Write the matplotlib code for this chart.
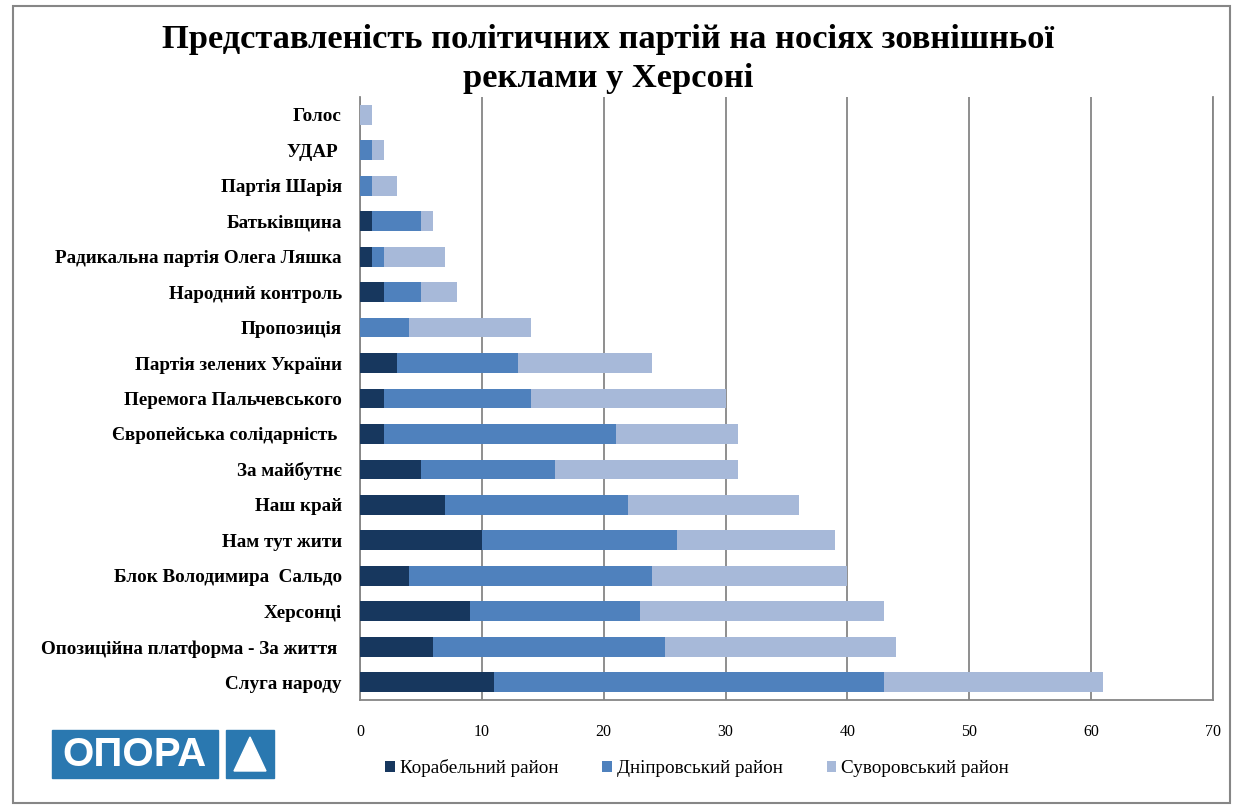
import numpy as np
import matplotlib
matplotlib.use('Agg')
import matplotlib.pyplot as plt
from matplotlib.patches import Rectangle, Polygon

# bottom to top
parties = ['Слуга народу', 'Опозиційна платформа - За життя ', 'Херсонці',
           'Блок Володимира  Сальдо', 'Нам тут жити', 'Наш край', 'За майбутнє',
           'Європейська солідарність ', 'Перемога Пальчевського',
           'Партія зелених України', 'Пропозиція', 'Народний контроль',
           'Радикальна партія Олега Ляшка', 'Батьківщина', 'Партія Шарія',
           'УДАР ', 'Голос']
korabelnyi = [11, 6, 9, 4, 10, 7, 5, 2, 2, 3, 0, 2, 1, 1, 0, 0, 0]
dniprovskyi = [32, 19, 14, 20, 16, 15, 11, 19, 12, 10, 4, 3, 1, 4, 1, 1, 0]
suvorovskyi = [18, 19, 20, 16, 13, 14, 15, 10, 16, 11, 10, 3, 5, 1, 2, 1, 1]
series_names = ['Корабельний район', 'Дніпровський район', 'Суворовський район']
colors = ['#17375E', '#4F81BD', '#A7B9D9']

plt.rcParams['font.family'] = ['Liberation Serif', 'DejaVu Serif']

fig = plt.figure(figsize=(12.33, 8.10), dpi=100)
ax = fig.add_axes([360/1233, 1-700/810, (1213-360)/1233, (700-97)/810])

y = np.arange(len(parties))
left = np.zeros(len(parties))
for vals, name, c in zip([korabelnyi, dniprovskyi, suvorovskyi], series_names, colors):
    ax.barh(y, vals, left=left, height=0.56, color=c, label=name, zorder=3)
    left = left + np.array(vals)

ax.set_xlim(0, 70)
ax.set_ylim(-0.5, len(parties) - 0.5)
ax.set_xticks(range(0, 71, 10))
ax.set_yticks(y)
ax.set_yticklabels(parties, fontsize=13.8, fontweight='bold')
ax.tick_params(axis='x', labelsize=11.5, length=0, pad=17)
ax.tick_params(axis='y', length=0, pad=13)
ax.xaxis.grid(True, color='#868686', linewidth=1.3, zorder=0)
for s in ['left', 'bottom', 'right']:
    ax.spines[s].set_color('#868686')
    ax.spines[s].set_linewidth(1.3)
ax.spines['top'].set_visible(False)

fig.text(608/1233, 1-59/810, 'Представленість політичних партій на носіях зовнішньої\nреклами у Херсоні',
         ha='center', va='center', fontsize=24.8, fontweight='bold', linespacing=1.3)

leg = fig.legend(loc='center', bbox_to_anchor=(697/1233, 1-768/810), ncol=3, frameon=False,
                 fontsize=13.8, handlelength=0.5, handleheight=0.5, handletextpad=0.25,
                 columnspacing=2.3)

# OPORA logo
fig.patches.append(Rectangle((52/1233, 1-778/810), 166/1233, 48/810, transform=fig.transFigure,
                             color='#2A78B0', zorder=1))
fig.patches.append(Rectangle((226/1233, 1-778/810), 48/1233, 48/810, transform=fig.transFigure,
                             color='#2A78B0', zorder=1))
fig.patches.append(Polygon([[234/1233, 1-771/810], [266/1233, 1-771/810], [250/1233, 1-737/810]],
                           transform=fig.transFigure, color='white', zorder=2))
fig.text(135/1233, 1-755/810, 'ОПОРА', ha='center', va='center', fontsize=29, fontweight='bold',
         color='white', family=['Liberation Sans Narrow', 'Liberation Sans', 'DejaVu Sans'], zorder=3)

# outer frame
fig.patches.append(Rectangle((13/1233, 1-803/810), 1217/1233, 797/810, transform=fig.transFigure,
                             fill=False, edgecolor='#868686', linewidth=1.5))

fig.savefig('out.png', dpi=100)
